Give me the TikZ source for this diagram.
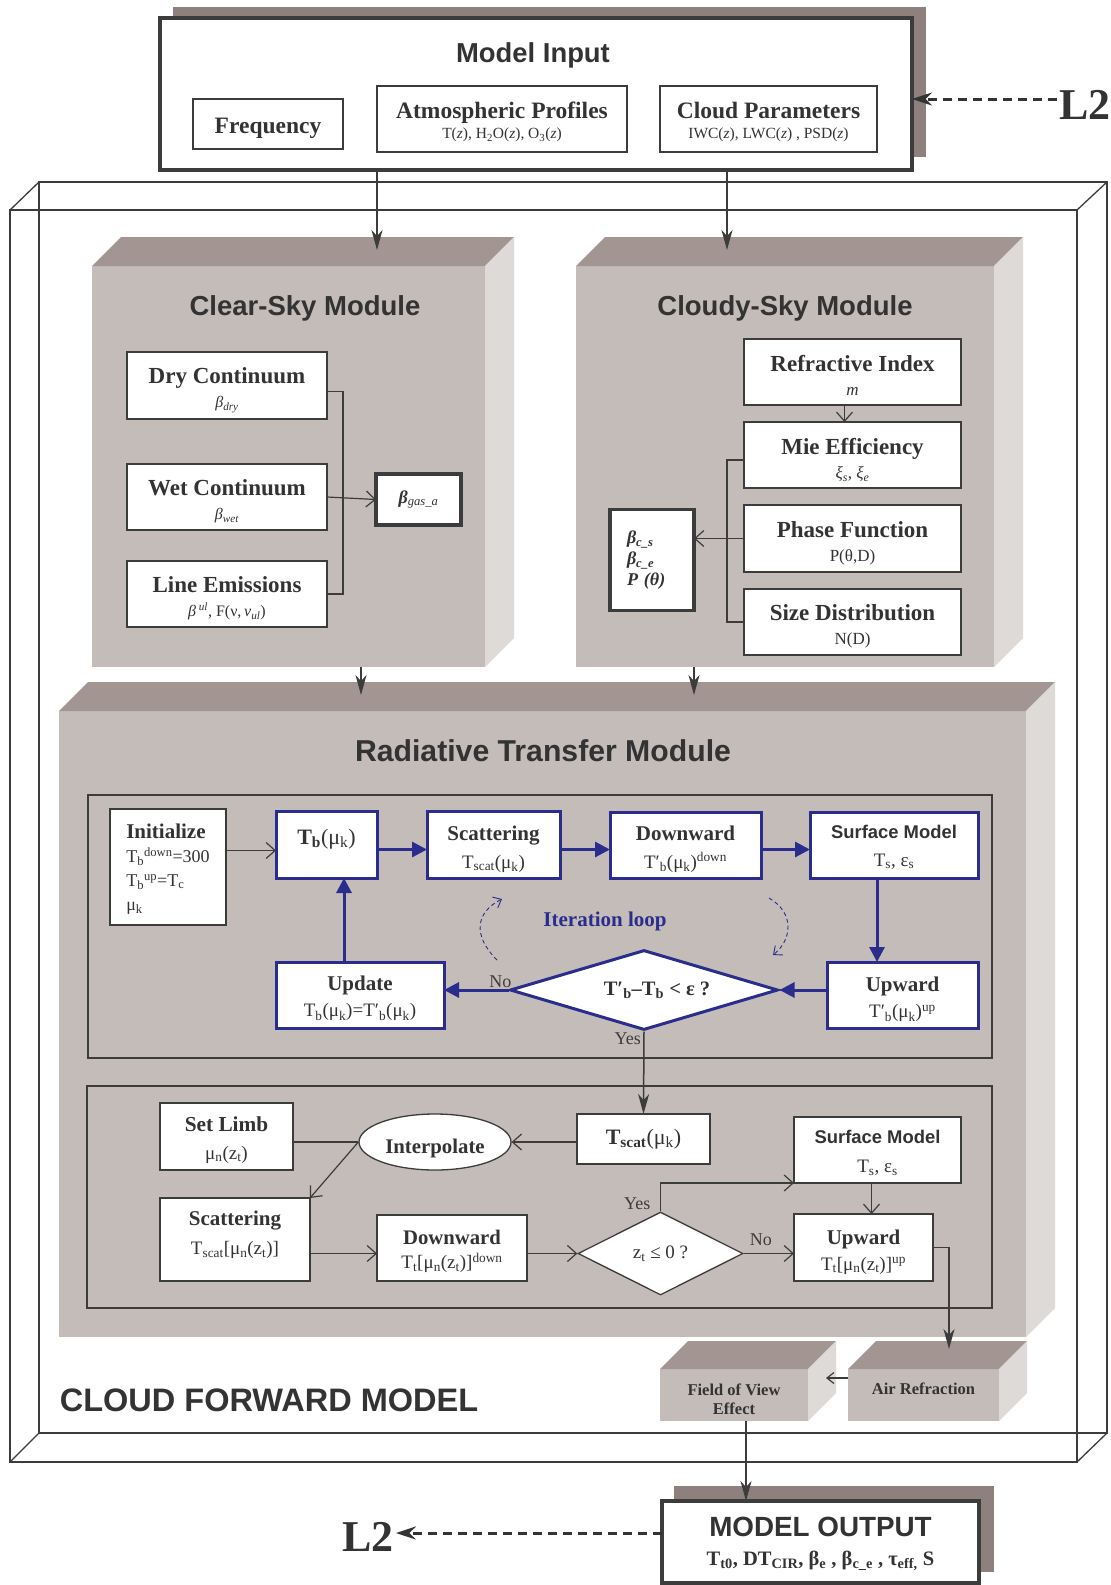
\documentclass[tikz,border=0pt]{standalone}
\usepackage{fontspec}
\setmainfont{Liberation Serif}
\newfontfamily\hv{Liberation Sans}
\usetikzlibrary{arrows.meta,shapes.geometric,calc}
\definecolor{txt}{HTML}{333333}
\definecolor{ln}{HTML}{3C3C3C}
\definecolor{blu}{HTML}{2B2D8C}
\definecolor{facec}{HTML}{C4BCB9}
\definecolor{topc}{HTML}{A29592}
\definecolor{sidec}{HTML}{DEDAD7}
\definecolor{shad}{HTML}{8E807C}
\newcommand\fsz[2]{\fontsize{#1}{#2}\selectfont}
\newcommand\sbs[1]{\textsubscript{#1}}
\newcommand\sps[1]{\textsuperscript{#1}}
\newcommand\tstr[1]{\rule{0pt}{#1pt}}
\newcommand\cubeparts[2]{%
  \fill[topc] (#1.north west) -- ++(#2,-#2) -- ($(#1.north east)+(#2,-#2)$) -- (#1.north east) -- cycle;
  \fill[sidec] (#1.north east) -- ($(#1.north east)+(#2,-#2)$) -- ($(#1.south east)+(#2,-#2)$) -- (#1.south east) -- cycle;}
\begin{document}
\begin{tikzpicture}[x=1pt,y=-1pt,
  every node/.style={text=txt},
  wbox/.style={draw=ln, line width=1.3, fill=white, inner sep=0, outer sep=0, align=center},
  bbox/.style={draw=blu, line width=3, fill=white, inner sep=0, outer sep=0, align=center},
  kbox/.style={draw=ln, line width=3.2, fill=white, inner sep=0, outer sep=0},
  cface/.style={fill=facec, inner sep=0, outer sep=0},
  inrect/.style={draw=ln, line width=1.3, inner sep=0, outer sep=0},
  garr/.style={draw=ln, line width=1.2, -{Straight Barb[length=9,width=16]}},
  barr/.style={draw=blu, line width=3, -{Triangle[length=15,width=15]}},
  darr/.style={draw=ln, line width=1.5, -{Stealth[length=20,width=11,inset=6]}},
  dsh/.style={draw=txt, line width=3, dash pattern=on 9pt off 6pt, -{Stealth[length=20,width=13]}},
  loopa/.style={draw=blu, line width=0.9, dash pattern=on 4pt off 3pt, -{Straight Barb[length=7,width=12]}},
  frame/.style={draw=ln, line width=1.3},
  mtitle/.style={font={\hv\bfseries\fsz{27.5}{30}}},
  lbl/.style={font={\fsz{18}{20}}, text=ln, inner sep=1}
]
\useasboundingbox (0,0) rectangle (1111,1585);
\fill[white] (0,0) rectangle (1111,1585);

% ---------- outer frame ----------
\draw[frame] (39,182) rectangle (1107,1433);
\draw[frame] (10,210) rectangle (1077,1462);
\draw[frame] (10,210) -- (39,182) (1077,210) -- (1107,182)
             (10,1462) -- (39,1433) (1077,1462) -- (1107,1433);

% ---------- model input ----------
\fill[shad] (173,7) rectangle (926,157);
\node[kbox, minimum width=752, minimum height=152] (mib) at (536,94) {};
\node[font={\hv\bfseries\fsz{27.4}{30}}] (mit) at (533,55) {Model Input};
\node[wbox, minimum width=150, minimum height=50, font={\bfseries\fsz{23.5}{26}}] (freq) at (268,124) {\tstr{24}Frequency};
\node[wbox, minimum width=250, minimum height=66, font={\fsz{15.5}{20}}] (atm) at (502,119)
  {{\bfseries\fsz{23.5}{22}\tstr{23}Atmospheric Profiles}\\T(\textit{z}), H\sbs{2}O(\textit{z}), O\sbs{3}(\textit{z})};
\node[wbox, minimum width=217, minimum height=66, font={\fsz{15.5}{20}}] (cld) at (768.5,119)
  {{\bfseries\fsz{23.5}{22}\tstr{23}Cloud Parameters}\\IWC(\textit{z}), LWC(\textit{z}) , PSD(\textit{z})};
\node[font={\bfseries\fsz{44}{44}}, inner sep=0] (l2a) at (1085,105) {L2};
\draw[dsh] ($(l2a.west)+(-2,-6)$) -- ($(l2a.west -| mib.east)+(0,-6)$);

% ---------- clear-sky module ----------
\node[cface, minimum width=393, minimum height=401] (cs) at (288.5,466.5) {};
\cubeparts{cs}{29}
\node[mtitle] (cst) at (305,308) {Clear-Sky Module};
\node[wbox, minimum width=200, minimum height=67, font={\fsz{16}{24}}] (dry) at (227,385.5)
  {{\bfseries\fsz{23}{24}\tstr{25}Dry Continuum}\\\textit{β}\sbs{\textit{dry}}};
\node[wbox, minimum width=200, minimum height=66, font={\fsz{16}{24}}] (wet) at (227,497)
  {{\bfseries\fsz{23}{24}\tstr{25}Wet Continuum}\\\textit{β}\sbs{\textit{wet}}};
\node[wbox, minimum width=200, minimum height=66, font={\fsz{16}{24}}] (lem) at (227,594)
  {{\bfseries\fsz{23}{24}\tstr{25}Line Emissions}\\\textit{β}\,\sps{\textit{ul}}, F(ν,\,\textit{ν}\sbs{\textit{ul}})};
\node[kbox, minimum width=85, minimum height=51, font={\fsz{18}{20}}] (gas) at (418.5,499.5)
  {\textbf{\textit{β}}\sbs{\textit{gas\_a}}};
\draw[draw=ln, line width=1.2] ($(dry.east)+(0,6)$) -- ++(16,0) |- (lem.east);
\draw[garr] (wet.east) -- (gas.west);

% ---------- cloudy-sky module ----------
\node[cface, minimum width=418, minimum height=401] (cy) at (785,466.5) {};
\cubeparts{cy}{29}
\node[mtitle] (cyt) at (785,308) {Cloudy-Sky Module};
\node[wbox, minimum width=217, minimum height=66, font={\fsz{17}{24}}] (ref) at (852.5,372)
  {{\bfseries\fsz{23}{24}\tstr{22}Refractive Index}\\\textit{m}};
\node[wbox, minimum width=217, minimum height=66, font={\fsz{17}{24}}] (mie) at (852.5,455)
  {{\bfseries\fsz{23}{24}\tstr{26}Mie Efficiency}\\\textit{ξ}\sbs{\textit{s}}, \textit{ξ}\sbs{\textit{e}}};
\node[wbox, minimum width=217, minimum height=67, font={\fsz{17}{24}}] (pf) at (852.5,538.5)
  {{\bfseries\fsz{23}{24}\tstr{25}Phase Function}\\P(θ,D)};
\node[wbox, minimum width=217, minimum height=66, font={\fsz{17}{24}}] (sd) at (852.5,622)
  {{\bfseries\fsz{23}{24}\tstr{24}Size Distribution}\\N(D)};
\node[kbox, minimum width=84, minimum height=101, text width=50, align=left,
      font={\bfseries\itshape\fsz{18}{21}}] (res) at (652,560)
  {β\sbs{c\_s}\\β\sbs{c\_e}\\P (θ)};
\draw[garr] ($(ref.south)+(-8,0)$) -- ($(mie.north)+(-8,0)$);
\draw[draw=ln, line width=1.2] ($(mie.west)+(0,5)$) -- ++(-17,0) |- (sd.west);
\draw[garr] (pf.west) -- (pf.west -| res.east);

% arrows from model input
\coordinate (csin) at (377,250);
\coordinate (cyin) at (727,250);
\draw[darr] (mib.south -| csin) -- (csin);
\draw[darr] (mib.south -| cyin) -- (cyin);

% ---------- radiative transfer module ----------
\node[cface, minimum width=967, minimum height=626] (rt) at (542.5,1024) {};
\cubeparts{rt}{29}
\node[font={\hv\bfseries\fsz{30.2}{32}}] (rtt) at (543,751) {Radiative Transfer Module};
\coordinate (rtin1) at (361,695);
\coordinate (rtin2) at (694,695);
\draw[darr] (cs.south -| rtin1) -- (rtin1);
\draw[darr] (cy.south -| rtin2) -- (rtin2);

\node[inrect, minimum width=904, minimum height=263] (loop1) at (540,926.5) {};
\node[inrect, minimum width=905, minimum height=222] (loop2) at (539.5,1197) {};

% upper loop
\node[wbox, minimum width=116, minimum height=116, align=left, font={\fsz{18}{24}}] (init) at (168,867)
  {{\bfseries\fsz{21}{24}\tstr{18.5}Initialize}\\T\sbs{b}\sps{down}=300\\T\sbs{b}\sps{up}=T\sbs{c}\\μ\sbs{k}};
\node[bbox, minimum width=101, minimum height=67, font={\fsz{22}{26}}, text depth=16] (tb) at (326.5,844.5)
  {\textbf{T}\sbs{\textbf{b}}(μ\sbs{k})};
\node[bbox, minimum width=133, minimum height=67, font={\fsz{19}{28}}] (scat) at (493.5,844.5)
  {{\bfseries\fsz{21}{28}\tstr{23.5}Scattering}\\T\sbs{scat}(μ\sbs{k})};
\node[bbox, minimum width=151, minimum height=66, font={\fsz{19}{28}}] (down) at (685.5,845)
  {{\bfseries\fsz{21}{28}\tstr{22.5}Downward}\\T′\sbs{b}(μ\sbs{k})\sps{down}};
\node[bbox, minimum width=168, minimum height=66, font={\fsz{19}{28}}] (surf) at (894,845)
  {{\hv\bfseries\fsz{18.4}{28}\tstr{17.4}Surface Model}\\T\sbs{s}, ε\sbs{s}};
\node[bbox, minimum width=151, minimum height=66, font={\fsz{19}{26}}] (up) at (902.5,995)
  {{\bfseries\fsz{21}{26}\tstr{23.5}Upward}\\T′\sbs{b}(μ\sbs{k})\sps{up}};
\node[diamond, draw=blu, line width=3, fill=white, inner sep=0, aspect=3.35,
      minimum width=268, minimum height=80, font={\bfseries\fsz{20.5}{24}}] (dia) at (644,990)
  {\hspace*{26pt}T′\sbs{b}–T\sbs{b} < ε ?};
\node[bbox, minimum width=168, minimum height=66, font={\fsz{19}{26}}] (upd) at (360,995)
  {{\bfseries\fsz{21}{26}\tstr{21.5}Update}\\T\sbs{b}(μ\sbs{k})=T′\sbs{b}(μ\sbs{k})};
\node[font={\bfseries\fsz{21}{24}}, text=blu] (iter) at (605,921) {Iteration loop};

\draw[garr] ($(init.east |- tb)+(0,6)$) -- ($(tb.west)+(0,6)$);
\draw[barr] ($(tb.east)+(0,5)$) -- ($(scat.west)+(0,5)$);
\draw[barr] ($(scat.east)+(0,5)$) -- ($(down.west)+(0,4.5)$);
\draw[barr] ($(down.east)+(0,4.5)$) -- ($(surf.west)+(0,4.5)$);
\draw[barr] ($(surf.south)+(-17,0)$) -- ($(surf.south |- up.north)+(-17,0)$);
\draw[barr] (up.west |- dia) -- (dia.east);
\draw[barr] (dia.west) -- (dia.west -| upd.east);
\node[lbl, anchor=south east] (no1) at ($(dia.west)+(4,-1)$) {No};
\coordinate (uu) at (344,962);
\draw[barr] (uu) -- (uu |- tb.south);
\draw[loopa] (497,960) .. controls (472,935) and (476,912) .. (502,899);
\draw[loopa] (769,898) .. controls (795,913) and (792,940) .. (773,955);

% lower part
\node[wbox, minimum width=133, minimum height=67, font={\fsz{19}{28}}] (limb) at (226.5,1136.5)
  {{\bfseries\fsz{21.3}{28}\tstr{21.5}Set Limb}\\μ\sbs{n}(z\sbs{t})};
\node[ellipse, draw=ln, line width=1.3, fill=white, inner sep=0, minimum width=152, minimum height=56,
      font={\bfseries\fsz{20.8}{24}}] (interp) at (435,1142) {\raisebox{-6pt}[\height][\depth]{Interpolate}};
\node[wbox, minimum width=133, minimum height=50, font={\fsz{22}{26}}] (tsc) at (643.5,1139)
  {\textbf{T}\sbs{\textbf{scat}}(μ\sbs{k})};
\node[wbox, minimum width=150, minimum height=83, font={\fsz{19}{29}}] (scat2) at (235,1239.5)
  {{\bfseries\fsz{21}{29}Scattering}\\T\sbs{scat}[μ\sbs{n}(z\sbs{t})]\rule[-13pt]{0pt}{13pt}};
\node[wbox, minimum width=150, minimum height=66, font={\fsz{19}{24}}] (down2) at (452,1248)
  {{\bfseries\fsz{20.7}{24}\tstr{21.5}Downward}\\T\sbs{t}[μ\sbs{n}(z\sbs{t})]\sps{down}};
\node[diamond, draw=ln, line width=1.3, fill=white, inner sep=0, aspect=2,
      minimum width=165, minimum height=83, font={\fsz{19}{22}}] (dia2) at (660.5,1253.5)
  {z\sbs{t} ≤ 0 ?};
\node[wbox, minimum width=167, minimum height=66, font={\fsz{19}{29}}] (surf2) at (877.5,1150)
  {{\hv\bfseries\fsz{18.4}{29}\tstr{19.4}Surface Model}\\T\sbs{s}, ε\sbs{s}};
\node[wbox, minimum width=139, minimum height=67, font={\fsz{19}{26}}] (up2) at (863.5,1247.5)
  {{\bfseries\fsz{21}{26}\tstr{23.5}Upward}\\T\sbs{t}[μ\sbs{n}(z\sbs{t})]\sps{up}};

\draw[darr] (dia.south) -- (tsc.north);
\node[lbl, anchor=north east] (yes1) at ($(dia.south)+(-2,0)$) {Yes};
\draw[draw=ln, line width=1.2] (limb.east |- interp) -- (interp.west);
\draw[garr] (tsc.west |- interp) -- (interp.east);
\draw[garr] (interp.west) -- (scat2.north east);
\draw[garr] (scat2.east |- dia2) -- (down2.west |- dia2);
\draw[garr] (down2.east |- dia2) -- (dia2.west);
\draw[garr] (dia2.east) -- (up2.west |- dia2);
\node[lbl, anchor=south] (no2) at ($(dia2.east)!0.5!(up2.west |- dia2)+(-8,-7)$) {No};
\draw[garr] (dia2.north) |- (surf2.south west);
\node[lbl, anchor=south east] (yes2) at ($(dia2.north)+(-9,0)$) {Yes};
\draw[garr] ($(surf2.south)+(-6,0)$) -- ($(surf2.south |- up2.north)+(-6,0)$);

% ---------- bottom cubes ----------
\node[cface, minimum width=148, minimum height=52, align=center, font={\bfseries\fsz{16.5}{19}}] (fov) at (734,1395)
  {\tstr{19.4}Field of View\\Effect};
\cubeparts{fov}{28}
\node[cface, minimum width=151, minimum height=52, font={\bfseries\fsz{16.5}{19}}] (air) at (923.5,1395)
  {\raisebox{6pt}[\height][\depth]{Air Refraction}};
\cubeparts{air}{28}
\coordinate (airin) at (949,1349);
\draw[darr] (up2.east) -| (airin);
\draw[draw=ln, line width=1.2, -{Straight Barb[length=7,width=11]}] ($(air.west)+(0,-17)$) -- ++(-22,0);

\node[font={\hv\bfseries\fsz{32.5}{36}}] (cfm) at (269,1400) {CLOUD FORWARD MODEL};

% ---------- model output ----------
\fill[shad] (674,1486) rectangle (994,1572);
\node[kbox, minimum width=317, minimum height=82, align=center, font={\bfseries\fsz{20.5}{29}}] (mob) at (820.5,1542)
  {{\hv\bfseries\fsz{27.8}{29}\tstr{24}MODEL OUTPUT}\\T\sbs{t0}, DT\sbs{CIR}, β\sbs{e} , β\sbs{c\_e} , τ\sbs{eff,} S};
\draw[darr] ($(fov.south)+(12,0)$) -- ($(fov.south |- mob.north)+(12,0)$);
\node[font={\bfseries\fsz{44}{44}}, inner sep=0] (l2b) at (368,1537) {L2};
\draw[dsh] ($(mob.west)+(0,-9)$) -- ($(l2b.east)+(2,-4)$);
\end{tikzpicture}
\end{document}
